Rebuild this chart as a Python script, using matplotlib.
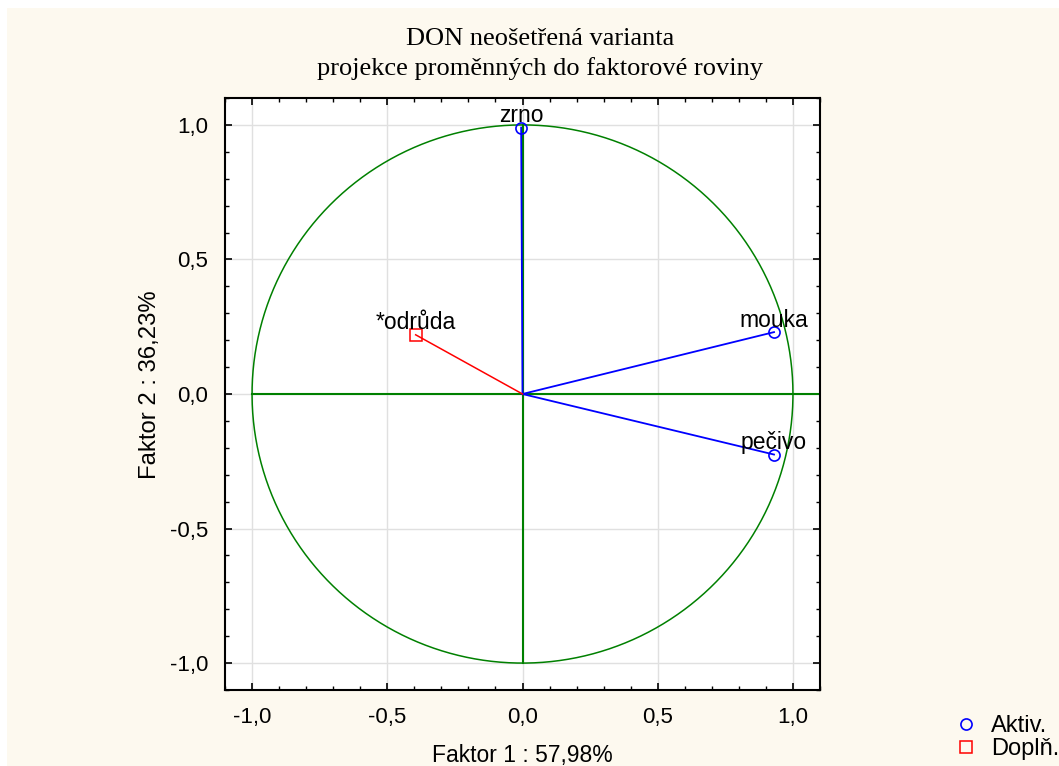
import numpy as np
from matplotlib import pyplot as plt
from matplotlib.lines import Line2D
from matplotlib.patches import Rectangle
from matplotlib.ticker import MultipleLocator, FuncFormatter

plt.rcParams['font.family'] = ['Liberation Sans', 'DejaVu Sans']

# aktivní proměnné
active_names = ["zrno", "mouka", "pečivo"]
active_x = [-0.005, 0.93, 0.93]
active_y = [0.99, 0.23, -0.225]

# doplňkové proměnné
supp_names = ["*odrůda"]
supp_x = [-0.395]
supp_y = [0.22]

title = "DON neošetřená varianta\nprojekce proměnných do faktorové roviny"
xlabel = "Faktor 1 : 57,98%"
ylabel = "Faktor 2 : 36,23%"
ticks = [-1.0, -0.5, 0.0, 0.5, 1.0]

cream = "#fdf9ef"
green = "#008000"

fig = plt.figure(figsize=(10.59, 7.66), dpi=100, facecolor="white")
fig.patches.append(Rectangle((7 / 1059, 0), 1, 1 - 8 / 766, transform=fig.transFigure,
                             facecolor=cream, edgecolor="none", zorder=-10))
ax = fig.add_axes([225 / 1059, 1 - 690 / 766, (820 - 225) / 1059, (690 - 98) / 766])
ax.set_facecolor("white")

# jednotková kružnice a osy
t = np.linspace(0, 2 * np.pi, 400)
ax.plot(np.cos(t), np.sin(t), color=green, lw=1.1, zorder=2)
ax.plot([-1, 1.1], [0, 0], color=green, lw=1.5, zorder=2)
ax.plot([0, 0], [-1, 1], color=green, lw=1.5, zorder=2)

for x, y in zip(active_x, active_y):
    ax.plot([0, x], [0, y], color="blue", lw=1.3, zorder=3)
ax.plot(active_x, active_y, "o", mfc="none", mec="blue", ms=8, mew=1.2, zorder=4)
for x, y in zip(supp_x, supp_y):
    ax.plot([0, x], [0, y], color="red", lw=1.1, zorder=3)
ax.plot(supp_x, supp_y, "s", mfc="none", mec="red", ms=8, mew=1.1, zorder=4)

for n, x, y in zip(active_names + supp_names, active_x + supp_x, active_y + supp_y):
    ax.text(x, y + 0.002, n, ha="center", va="bottom", fontsize=16.5, zorder=5)

ax.set_xlim(-1.1, 1.1)
ax.set_ylim(-1.1, 1.1)
ax.set_xticks(ticks)
ax.set_yticks(ticks)
ax.xaxis.set_minor_locator(MultipleLocator(0.1))
ax.yaxis.set_minor_locator(MultipleLocator(0.1))
fmt = FuncFormatter(lambda v, p: ("%.1f" % v).replace(".", ","))
ax.xaxis.set_major_formatter(fmt)
ax.yaxis.set_major_formatter(fmt)
ax.tick_params(which="both", direction="in", top=True, right=True, labelsize=16)
ax.tick_params(axis="x", pad=12)
ax.tick_params(axis="y", pad=12)
ax.tick_params(which="major", length=5, width=1.2)
ax.tick_params(which="minor", length=3, width=1)
ax.grid(True, color="#e0e0e0", lw=1, zorder=0)
ax.set_axisbelow(True)
for s in ax.spines.values():
    s.set_linewidth(1.5)

fig.text(540 / 1059, 1 - 54 / 766, title, ha="center", va="center", fontsize=19,
         family=["Liberation Serif", "DejaVu Serif"], linespacing=1.35)
ax.set_xlabel(xlabel, fontsize=16.5, labelpad=12)
ax.set_ylabel(ylabel, fontsize=17.2)
ax.yaxis.set_label_coords((161 - 225) / 595, (690 - 385) / 592)

handles = [Line2D([], [], ls="none", marker="o", mfc="none", mec="blue", ms=8, mew=1.2),
           Line2D([], [], ls="none", marker="s", mfc="none", mec="red", ms=8, mew=1.1)]
fig.legend(handles, ["Aktiv.", "Doplň."], loc="lower right", bbox_to_anchor=(1.02, -0.02),
           frameon=False, fontsize=17, handlelength=1.2, handletextpad=0.45, labelspacing=0.05)

fig.savefig("out.png", dpi=100, facecolor=fig.get_facecolor())
